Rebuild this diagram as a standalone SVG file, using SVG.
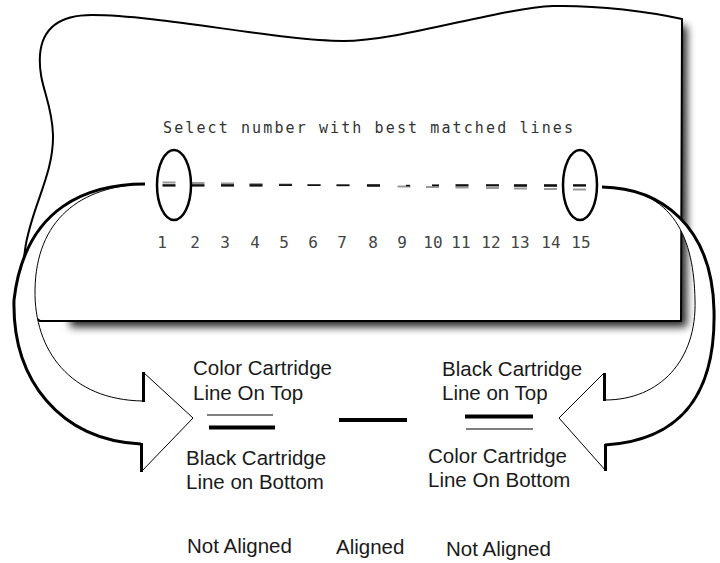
<svg xmlns="http://www.w3.org/2000/svg" width="720" height="563" viewBox="0 0 720 563">
<defs>
<filter id="shadowBlur" x="-10%" y="-10%" width="120%" height="120%"><feGaussianBlur stdDeviation="4.5"/></filter>
</defs>
<style>
.paper{fill:#fff;stroke:#000;stroke-width:2;stroke-linejoin:round}
.mono{font-family:"DejaVu Sans Mono","Liberation Mono",monospace;fill:#333}
.num{font-size:16px;text-anchor:middle;fill:#444}
.lbl{font-family:"Liberation Sans",Arial,sans-serif;font-size:20.5px;fill:#1a1a1a}
.arrowFill{fill:#fff;stroke:none}
.thin{fill:none;stroke:#000;stroke-width:1}
.thick{fill:none;stroke:#000;stroke-width:3}
.ell{fill:none;stroke:#000;stroke-width:2.5}
.dk{fill:#111}
.gy{fill:#9a9a9a}
.bar{stroke:#000;stroke-width:4}
.hair{stroke:#000;stroke-width:1.2}
</style>
<rect width="720" height="563" fill="#fff"/>
<g id="paper">
<path d="M560,24 L687,26 L687,327 L70,327 L70,100 Z" fill="#000" opacity="0.85" filter="url(#shadowBlur)"/>
<path class="paper" d="M682,19 C650,12 600,5 553,6 C500,8 400,41 343,41 C280,41 160,15 92,15 C60,15 42,28 40,55 C38,85 52,100 53,135 C54,175 30,210 25,250 C20,290 28,315 40,321 L681,321 Z"/>
</g>
<g id="title">
<text class="mono" x="163" y="133" font-size="15" textLength="410" lengthAdjust="spacing">Select number with best matched lines</text>
</g>
<g id="test-pattern">
<rect class="gy" x="162.5" y="181.5" width="13" height="2"/><rect class="dk" x="162.5" y="184.2" width="13" height="2.4"/>
<rect class="gy" x="191.5" y="182" width="13" height="2"/><rect class="dk" x="191.5" y="184.2" width="13" height="2.4"/>
<rect class="gy" x="221" y="182.5" width="13" height="2"/><rect class="dk" x="221" y="184.2" width="13" height="2.4"/>
<rect class="gy" x="249.5" y="183" width="13" height="2"/><rect class="dk" x="249.5" y="184.2" width="13" height="2.4"/>
<rect class="gy" x="279" y="183.5" width="13" height="2"/><rect class="dk" x="279" y="184.2" width="13" height="1.8"/>
<rect class="gy" x="307.5" y="184" width="13" height="2"/><rect class="dk" x="307.5" y="184.4" width="13" height="1.6"/>
<rect class="gy" x="336.5" y="184.5" width="13" height="2"/><rect class="dk" x="336.5" y="184.4" width="13" height="1.6"/>
<rect class="gy" x="367" y="185" width="13" height="2"/><rect class="dk" x="367" y="184.2" width="13" height="2.4"/>
<rect class="gy" x="397.5" y="185.5" width="13" height="2"/><rect class="dk" x="406" y="184.8" width="4" height="1.6"/>
<rect class="gy" x="426" y="186" width="13" height="2"/><rect class="dk" x="432" y="184.4" width="7" height="1.8"/>
<rect class="gy" x="455.5" y="186.5" width="13" height="2"/><rect class="dk" x="455.5" y="184.2" width="13" height="2.2"/>
<rect class="gy" x="486" y="187" width="13" height="2"/><rect class="dk" x="486" y="184.2" width="13" height="2.2"/>
<rect class="gy" x="514" y="187.5" width="13" height="2"/><rect class="dk" x="514" y="184.2" width="13" height="2.6"/>
<rect class="gy" x="544" y="188" width="13" height="2"/><rect class="dk" x="544" y="184.2" width="13" height="2.6"/>
<rect class="gy" x="573" y="188.5" width="13" height="2"/><rect class="dk" x="573" y="184.2" width="13" height="2.4"/>
</g>
<g id="numbers" class="mono">
<text class="num" x="162" y="248">1</text>
<text class="num" x="195" y="248">2</text>
<text class="num" x="225" y="248">3</text>
<text class="num" x="255" y="248">4</text>
<text class="num" x="284" y="248">5</text>
<text class="num" x="313" y="248">6</text>
<text class="num" x="342" y="248">7</text>
<text class="num" x="373" y="248">8</text>
<text class="num" x="402" y="248">9</text>
<text class="num" x="433" y="248">10</text>
<text class="num" x="461" y="248">11</text>
<text class="num" x="491" y="248">12</text>
<text class="num" x="520" y="248">13</text>
<text class="num" x="551" y="248">14</text>
<text class="num" x="581" y="248">15</text>
</g>
<g id="ellipse-left"><ellipse class="ell" cx="174" cy="185" rx="17" ry="35"/></g>
<g id="ellipse-right"><ellipse class="ell" cx="580" cy="185" rx="17" ry="35"/></g>
<g id="connectors">
<g id="arrow-left">
<path class="arrowFill" d="M145,184 C90,184 25,205 14,300 C12,380 60,440 141,444 L141,472 L193,418 L143,372 L143,401 C70,400 34,350 35,290 C36,220 80,186 145,184 Z"/>
<path class="thick" d="M145,184 C90,184 25,205 14,300 C12,380 60,440 141,444"/>
<path class="thin" d="M141,472 L193,418 L143,372"/>
<path class="thin" d="M143,401 C70,400 34,350 35,290 C36,220 80,186 145,184"/>
<path class="thick" d="M143.5,372 L143.5,402 M141.5,443 L141.5,472"/>
</g>
<g id="arrow-right">
<path class="arrowFill" d="M602,187 C660,188 712,225 714,310 C716,390 685,440 605,445 L606,471 L559,418 L604,373 L605,400 C660,400 697,360 695,300 C694,240 675,188 602,187 Z"/>
<path class="thick" d="M602,187 C660,188 712,225 714,310 C716,390 685,440 605,445"/>
<path class="thin" d="M606,471 L559,418 L604,373"/>
<path class="thin" d="M605,400 C660,400 697,360 695,300 C694,240 675,188 602,187"/>
<path class="thick" d="M604.5,373 L604.5,401 M605.5,444 L605.5,471"/>
</g>
</g>
<g id="not-aligned-left">
<text class="lbl" x="193" y="375">Color Cartridge</text>
<text class="lbl" x="193" y="400">Line On Top</text>
<line class="hair" x1="207" y1="415" x2="273" y2="415"/>
<line class="bar" x1="209" y1="427.5" x2="275" y2="427.5"/>
<text class="lbl" x="186" y="465">Black Cartridge</text>
<text class="lbl" x="186" y="489">Line on Bottom</text>
<text class="lbl" x="187" y="553">Not Aligned</text>
</g>
<g id="aligned">
<line class="bar" x1="339" y1="420" x2="407" y2="420"/>
<text class="lbl" x="336" y="554">Aligned</text>
</g>
<g id="not-aligned-right">
<text class="lbl" x="442" y="376">Black Cartridge</text>
<text class="lbl" x="442" y="400">Line on Top</text>
<line class="bar" x1="465" y1="416.5" x2="533" y2="416.5"/>
<line class="hair" x1="466" y1="429" x2="533" y2="429"/>
<text class="lbl" x="428" y="463">Color Cartridge</text>
<text class="lbl" x="428" y="487">Line On Bottom</text>
<text class="lbl" x="446" y="556">Not Aligned</text>
</g>
</svg>
